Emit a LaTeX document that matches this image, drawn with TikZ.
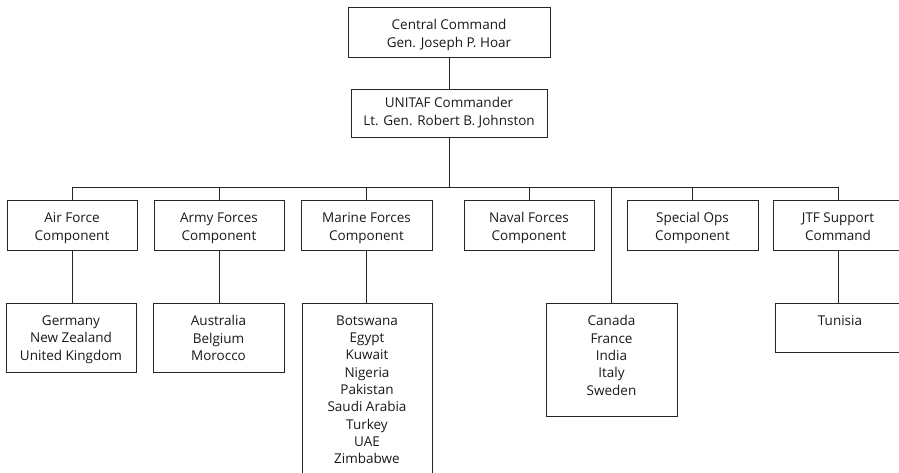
\documentclass[tikz,border=0pt]{standalone}
\usepackage{fontspec}
\setmainfont{Open Sans}
\newcommand{\lblfont}{\fontsize{13.5}{17.3}\selectfont}
\newcommand{\toppad}{\rule{0pt}{16pt}}
\begin{document}
\begin{tikzpicture}[x=1pt,y=-1pt,
  box/.style={draw=black!85, line width=0.8pt, inner sep=0pt, align=center, font=\lblfont, text=black!90},
  plainbox/.style={draw=black!85, line width=0.8pt, inner sep=0pt},
  listtext/.style={inner sep=0pt, align=center, font=\lblfont, text=black!90, anchor=north},
  conn/.style={draw=black!85, line width=0.8pt}]
\useasboundingbox (0,0) rectangle (899,473);
\clip (0,0) rectangle (899,473);
% top levels
\node[box, minimum width=202, minimum height=50] (cc) at (449,32) {\toppad Central Command\\Gen. Joseph P. Hoar};
\node[box, minimum width=196, minimum height=48] (un) at (449,113) {UNITAF Commander\\Lt. Gen. Robert B. Johnston\vphantom{p}};
\coordinate (hub) at (449,187);
% components
\node[box, minimum width=130, minimum height=50] (af) at (72,225) {\toppad Air Force\\Component};
\node[box, minimum width=130, minimum height=50] (ar) at (219,225) {\toppad Army Forces\\Component};
\node[box, minimum width=131, minimum height=50] (mf) at (366.5,225) {\toppad Marine Forces\\Component};
\node[box, minimum width=130, minimum height=50] (nf) at (529,225) {\toppad Naval Forces\\Component};
\node[box, minimum width=131, minimum height=50] (so) at (692.5,225) {\toppad Special Ops\\Component};
\node[box, minimum width=130, minimum height=50] (jt) at (838,225) {\toppad JTF Support\\Command\vphantom{p}};
% country boxes
\node[plainbox, minimum width=130, minimum height=69, anchor=north] (de) at (71,303) {};
\node[plainbox, minimum width=131, minimum height=69, anchor=north] (au) at (218.5,303) {};
\node[plainbox, minimum width=130, minimum height=190, anchor=north] (bw) at (367,303) {};
\node[plainbox, minimum width=131, minimum height=113, anchor=north] (ca) at (611.5,303) {};
\node[plainbox, minimum width=130, minimum height=49, anchor=north] (tn) at (840,303) {};
\node[listtext] (det) at (71,315.5) {Germany\\New Zealand\\United Kingdom};
\node[listtext] (aut) at (218.5,315.5) {Australia\\Belgium\\Morocco};
\node[listtext] (bwt) at (367,315.5) {Botswana\\Egypt\\Kuwait\\Nigeria\\Pakistan\\Saudi Arabia\\Turkey\\UAE\\Zimbabwe};
\node[listtext] (cat) at (611.5,315.5) {Canada\\France\\India\\Italy\\Sweden};
\node[listtext] (tnt) at (840,315.5) {Tunisia};
% connectors
\draw[conn] (cc) -- (un);
\draw[conn] (un) -- (hub);
\draw[conn] (af.north) |- (hub);
\draw[conn] (ar.north) |- (hub);
\draw[conn] (mf.north) |- (hub);
\draw[conn] (nf.north) |- (hub);
\draw[conn] (ca.north) |- (hub);
\draw[conn] (so.north) |- (hub);
\draw[conn] (jt.north) |- (hub);
\draw[conn] (af.south) -- (af.south |- de.north);
\draw[conn] (ar.south) -- (ar.south |- au.north);
\draw[conn] (mf.south) -- (mf.south |- bw.north);
\draw[conn] (jt.south) -- (jt.south |- tn.north);
\end{tikzpicture}
\end{document}
